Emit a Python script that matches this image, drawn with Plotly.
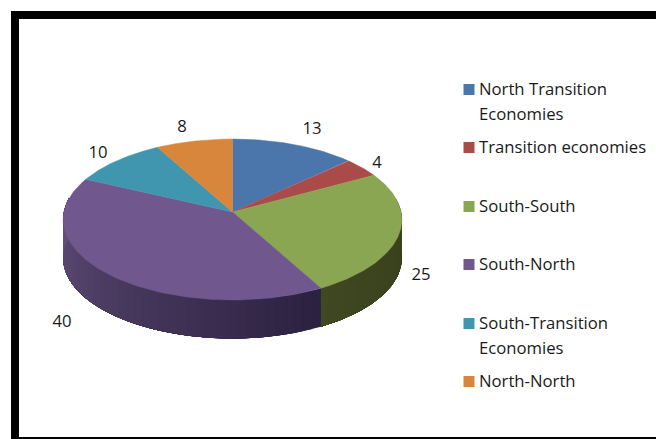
import numpy as np
import plotly.graph_objects as go

# --- data ---
categories = ["North Transition Economies", "Transition economies", "South-South",
              "South-North", "South-Transition Economies", "North-North"]
values = [13, 4, 25, 40, 10, 8]
colors = ["#4A76AC", "#AA4B49", "#8AA653", "#70578E", "#4096AE", "#D9863D"]
side_light = ["#3A5C86", "#853A38", "#3F4821", "#64507C", "#327587", "#A96830"]
side_dark = ["#3A5C86", "#853A38", "#363E1B", "#2C2140", "#327587", "#A96830"]
legend_lines = ["North Transition", "Economies", "Transition economies", "South-South",
                "South-North", "South-Transition", "Economies", "North-North"]

W, H = 656, 439
CX, CY = 232.5, 212.0
P = 0.0932
A = 79.8
B = 168.6
DEPTH = 38.5


def project(theta):
    u, v = np.sin(theta), -np.cos(theta)
    den = 1 - P * v
    return CX + B * u / den, CY + A * v / den


def hex2rgb(h):
    return np.array([int(h[i:i + 2], 16) for i in (1, 3, 5)], float)


fig = go.Figure()
total = sum(values)
edges = np.cumsum([0] + values) / total * 2 * np.pi
VIS_START, VIS_END = np.radians(80), np.radians(280)

# side wall: painted in overlapping bands so the shading shows no seams
for i in range(len(values)):
    a0, a1 = max(edges[i], VIS_START), min(edges[i + 1], VIS_END)
    if a1 <= a0:
        continue
    n = max(2, int((a1 - a0) / np.radians(3)))
    ts = np.linspace(a0, a1, n + 1)
    c_l, c_d = hex2rgb(side_light[i]), hex2rgb(side_dark[i])
    for t0 in ts[:-1]:
        arc = np.linspace(t0, a1, 60)
        xs, ys = project(arc)
        f = (t0 - a0) / (a1 - a0)
        c = c_d + (c_l - c_d) * f
        col = f"rgb({c[0]:.0f},{c[1]:.0f},{c[2]:.0f})"
        fig.add_trace(go.Scatter(x=[*xs, *xs[::-1], xs[0]],
                                 y=[*ys, *(ys[::-1] + DEPTH), ys[0]],
                                 mode="lines", fill="toself", fillcolor=col,
                                 line=dict(color=col, width=0), hoverinfo="skip", showlegend=False))

# top face
for i in range(len(values)):
    ts = np.linspace(edges[i], edges[i + 1], 120)
    xs, ys = project(ts)
    fig.add_trace(go.Scatter(x=[CX, *xs, CX], y=[CY, *ys, CY], mode="lines", fill="toself",
                             fillcolor=colors[i], line=dict(color=colors[i], width=0.5),
                             name=categories[i], hoverinfo="skip", showlegend=False))

FONT = dict(family="Open Sans, sans-serif", size=16.7, color="#1a1a1a")

# data labels
label_x = [312, 377, 421, 62, 98, 182]
label_y = [130, 164, 276, 323, 154, 128]
fig.add_trace(go.Scatter(x=label_x, y=label_y, mode="text", text=[str(v) for v in values],
                         textposition="middle center", textfont=FONT, hoverinfo="skip", showlegend=False))

# legend
swatch_x = [469] * 6
swatch_y = [89.5, 147.5, 206.5, 264.5, 323.5, 381.5]
text_x = [479] * 8
text_y = [91, 116, 149, 208, 266, 325, 350, 383]
fig.add_trace(go.Scatter(x=swatch_x, y=swatch_y, mode="markers",
                         marker=dict(symbol="square", size=11, color=colors, line=dict(width=0)),
                         hoverinfo="skip", showlegend=False))
fig.add_trace(go.Scatter(x=text_x, y=text_y, mode="text", text=legend_lines,
                         textposition="middle right", textfont=FONT, hoverinfo="skip", showlegend=False,
                         cliponaxis=False))

fig.update_layout(
    width=W, height=H, margin=dict(l=0, r=0, t=0, b=0, pad=0),
    paper_bgcolor="white", plot_bgcolor="white", showlegend=False,
    xaxis=dict(range=[0, W], visible=False, fixedrange=True),
    yaxis=dict(range=[H, 0], visible=False, fixedrange=True),
    shapes=[
        dict(type="rect", xref="x", yref="y", x0=11, x1=W, y0=11, y1=19,
             fillcolor="black", line=dict(width=0), layer="below"),
        dict(type="rect", xref="x", yref="y", x0=11, x1=19, y0=11, y1=H,
             fillcolor="black", line=dict(width=0), layer="below"),
        dict(type="rect", xref="x", yref="y", x0=11, x1=W, y0=437, y1=H,
             fillcolor="black", line=dict(width=0), layer="below"),
    ],
)
fig.write_html("out.html", config=dict(displayModeBar=False),
               post_script="document.body.style.margin='0';document.documentElement.style.overflow='hidden';")
